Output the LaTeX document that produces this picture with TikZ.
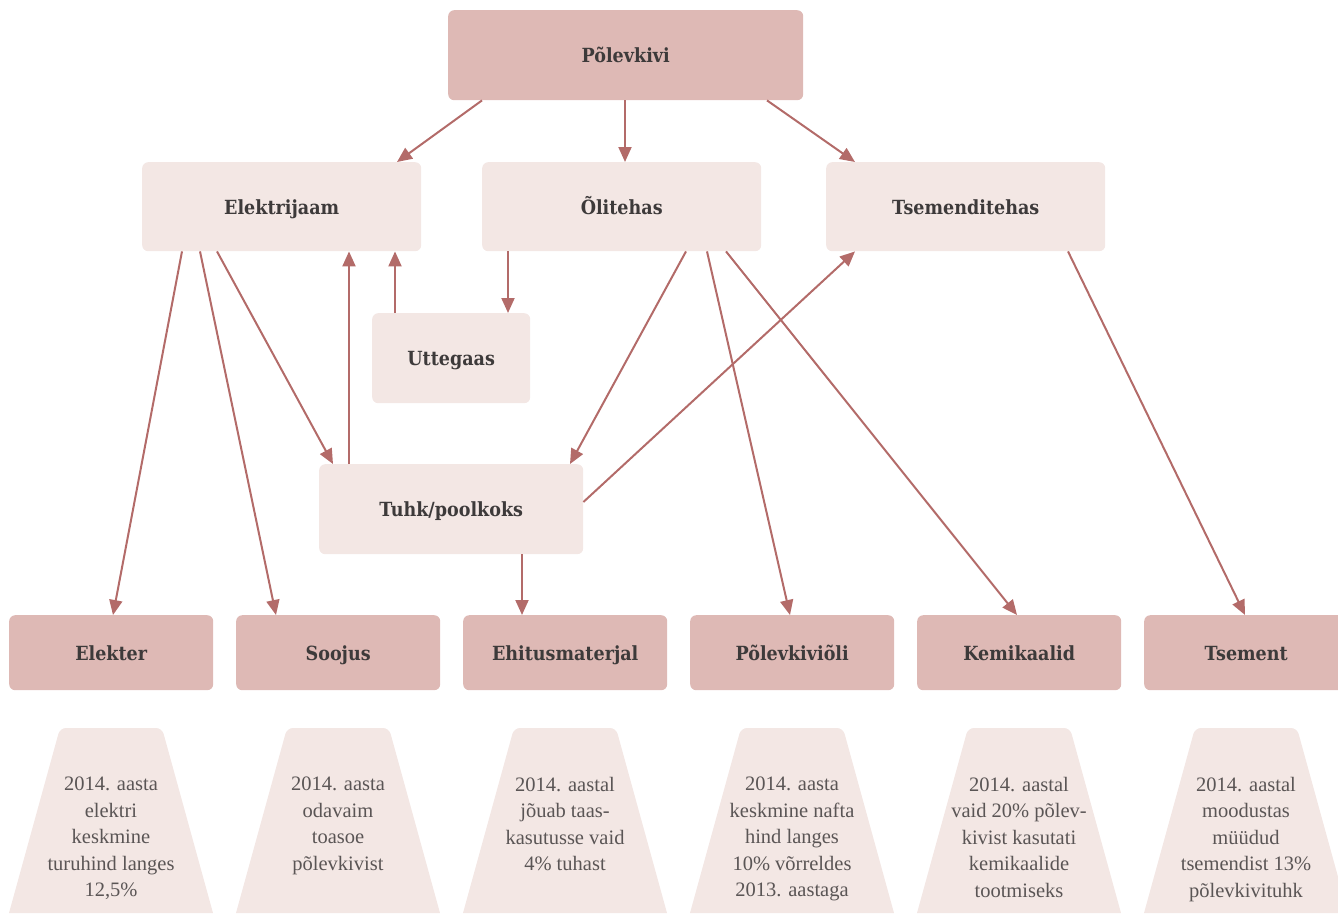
\documentclass[tikz,border=0pt]{standalone}
\usepackage{fontspec}
\setmainfont{Liberation Serif}
\newfontfamily\labelfont[FakeStretch=0.9]{DejaVu Serif}
\usetikzlibrary{arrows.meta}
\definecolor{darkfill}{HTML}{DEB9B5}
\definecolor{lightfill}{HTML}{F3E7E4}
\definecolor{arrowc}{HTML}{B36B69}
\definecolor{labtext}{HTML}{3D3A3A}
\definecolor{bodytext}{HTML}{5A5555}
\begin{document}
\begin{tikzpicture}[x=1pt,y=-1pt,
  box/.style={rounded corners=6pt, inner sep=0pt, anchor=north west,
    text height=15.5pt, text depth=0pt,
    font=\labelfont\bfseries\fontsize{19.5}{22}\selectfont, text=labtext},
  darkbox/.style={box, fill=darkfill},
  lightbox/.style={box, fill=lightfill},
  arr/.style={draw=arrowc, line width=2pt, -{Triangle[length=15pt,width=13pt]}},
  trtext/.style={anchor=north, inner sep=0pt, align=center, text=bodytext,
    font=\fontsize{20.5}{26.4}\selectfont},
  trap/.style={fill=lightfill}
]
\useasboundingbox (0,0) rectangle (1338,913);

% top row
\node[darkbox, minimum width=355pt, minimum height=90pt] (pk) at (448,10) {Põlevkivi};
% middle row
\node[lightbox, minimum width=279pt, minimum height=89pt] (elj) at (142,162) {Elektrijaam};
\node[lightbox, minimum width=279pt, minimum height=89pt] (ol) at (482,162) {Õlitehas};
\node[lightbox, minimum width=279pt, minimum height=89pt] (ts) at (826,162) {Tsemenditehas};
\node[lightbox, minimum width=158pt, minimum height=90pt] (utt) at (372,313) {Uttegaas};
\node[lightbox, minimum width=264pt, minimum height=90pt] (tuhk) at (319,464) {Tuhk/poolkoks};
% bottom row
\node[darkbox, minimum width=204pt, minimum height=75pt] (elekter) at (9,615) {Elekter};
\node[darkbox, minimum width=204pt, minimum height=75pt] (soojus) at (236,615) {Soojus};
\node[darkbox, minimum width=204pt, minimum height=75pt] (ehit) at (463,615) {Ehitusmaterjal};
\node[darkbox, minimum width=204pt, minimum height=75pt] (olip) at (690,615) {Põlevkiviõli};
\node[darkbox, minimum width=204pt, minimum height=75pt] (kem) at (917,615) {Kemikaalid};
\node[darkbox, minimum width=204pt, minimum height=75pt] (tsement) at (1144,615) {Tsement};

% trapezoids
\foreach \x in {9,236,463,690,917,1144}{
  \fill[trap] (\x,913) [rounded corners=6pt] -- (\x+51,728) -- (\x+153,728) [sharp corners] -- (\x+204,913) -- cycle;
}
\node[trtext] (t1) at (111,777) {2014. aasta\\elektri\\keskmine\\turuhind langes\\12,5\%};
\node[trtext] (t2) at (338,777) {2014. aasta\\odavaim\\toasoe\\põlevkivist};
\node[trtext] (t3) at (565,777) {2014. aastal\\jõuab taas-\\kasutusse vaid\\4\% tuhast};
\node[trtext] (t4) at (792,777) {2014. aasta\\keskmine nafta\\hind langes\\10\% võrreldes\\2013. aastaga};
\node[trtext] (t5) at (1019,777) {2014. aastal\\vaid 20\% põlev-\\kivist kasutati\\kemikaalide\\tootmiseks};
\node[trtext] (t6) at (1246,777) {2014. aastal\\moodustas\\müüdud\\tsemendist 13\%\\põlevkivituhk};

% connectors
\draw[arr] ([xshift=34pt]pk.south west) -- ([xshift=255pt]elj.north west);
\draw[arr] ([xshift=177pt]pk.south west) -- ([xshift=143pt]ol.north west);
\draw[arr] ([xshift=319pt]pk.south west) -- ([xshift=29pt]ts.north west);
\draw[arr] ([xshift=40pt]elj.south west) -- ([xshift=104pt]elekter.north west);
\draw[arr] ([xshift=58pt]elj.south west) -- ([xshift=40pt]soojus.north west);
\draw[arr] ([xshift=75pt]elj.south west) -- ([xshift=14pt]tuhk.north west);
\draw[arr] ([xshift=30pt]tuhk.north west) -- ([xshift=207pt]elj.south west);
\draw[arr] ([xshift=23pt]utt.north west) -- ([xshift=253pt]elj.south west);
\draw[arr] ([xshift=26pt]ol.south west) -- ([xshift=136pt]utt.north west);
\draw[arr] ([xshift=204pt]ol.south west) -- ([xshift=251pt]tuhk.north west);
\draw[arr] ([xshift=225pt]ol.south west) -- ([xshift=100pt]olip.north west);
\draw[arr] ([xshift=244pt]ol.south west) -- ([xshift=100pt]kem.north west);
\draw[arr] ([yshift=-38pt]tuhk.north east) -- ([xshift=29pt]ts.south west);
\draw[arr] ([xshift=242pt]ts.south west) -- ([xshift=101pt]tsement.north west);
\draw[arr] ([xshift=203pt]tuhk.south west) -- ([xshift=59pt]ehit.north west);
\end{tikzpicture}
\end{document}
